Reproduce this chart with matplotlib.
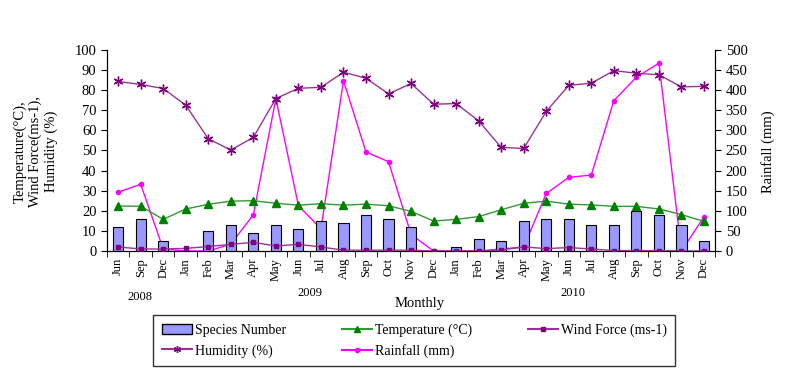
import numpy as np
import matplotlib.pyplot as plt
from matplotlib.lines import Line2D
from matplotlib.patches import Patch

plt.rcParams['font.family'] = 'Liberation Serif'

months = ['Jun', 'Sep', 'Dec',
          'Jan', 'Feb', 'Mar', 'Apr', 'May', 'Jun', 'Jul', 'Aug', 'Sep', 'Oct', 'Nov', 'Dec',
          'Jan', 'Feb', 'Mar', 'Apr', 'May', 'Jun', 'Jul', 'Aug', 'Sep', 'Oct', 'Nov', 'Dec']

species = [12, 16, 5, 0, 10, 13, 9, 13, 11, 15, 14, 18, 16, 12, 0,
           2, 6, 5, 15, 16, 16, 13, 13, 20, 18, 13, 5]
temperature = [22.3, 22.3, 15.7, 20.9, 23.2, 24.8, 25.0, 23.7, 22.8, 23.5, 22.8, 23.3, 22.5, 19.7, 14.9,
               15.7, 17.1, 20.5, 23.7, 24.8, 23.3, 22.9, 22.2, 22.2, 20.9, 18.1, 14.7]
wind = [2.0, 1.0, 1.0, 1.3, 2.2, 3.3, 4.3, 2.5, 3.3, 2.0, 0.4, 0.4, 0.4, 0.4, 0.0,
        0.0, 0.0, 0.5, 2.0, 1.2, 1.7, 1.0, 0.2, 0.2, 0.2, 0.0, 0.0]
humidity = [84.3, 82.8, 80.8, 72.5, 55.8, 50.2, 56.5, 75.8, 80.9, 81.4, 88.9, 85.9, 78.1, 83.3, 73.0,
            73.3, 64.7, 51.5, 51.0, 69.4, 82.4, 83.4, 89.7, 88.4, 87.6, 81.6, 81.9]
rainfall = [146, 166, 5, 0, 0, 17, 90, 379, 113, 55, 423, 246, 222, 41, 0,
            0, 0, 5, 10, 143, 183, 189, 374, 432, 467, 0, 85]

x = np.arange(len(months))

fig = plt.figure(figsize=(7.86, 3.78), dpi=100)
ax = fig.add_axes([0.136, 0.336, 0.774, 0.532])
ax2 = ax.twinx()

ax.bar(x, species, width=0.45, color='#9999FF', edgecolor='black', linewidth=0.8, zorder=2)
ax.plot(x, temperature, color='#339933', marker='^', markersize=6, markerfacecolor='#008000',
        markeredgecolor='#008000', linewidth=1, zorder=3)
ax.plot(x, wind, color='#993399', marker='s', markersize=3.5, markerfacecolor='#800080',
        markeredgecolor='#800080', linewidth=1, zorder=3)
ax.plot(x, humidity, color='#993399', marker=(6, 2, 0), markersize=7, markeredgecolor='#800080',
        linewidth=1, zorder=3)
ax2.plot(x, rainfall, color='#FF00FF', marker='o', markersize=3, linewidth=1, zorder=3)

ax.set_xlim(-0.5, len(months) - 0.5)
ax.set_ylim(0, 100)
ax2.set_ylim(0, 500)
ax.set_yticks(np.arange(0, 101, 10))
ax2.set_yticks(np.arange(0, 501, 50))
ax.tick_params(axis='y', labelsize=10.5, direction='out', length=4)
ax2.tick_params(axis='y', labelsize=10.5, direction='out', length=4)

ax.set_xticks(x)
ax.set_xticklabels(months, rotation=90, fontsize=9)
ax.set_xticks(np.arange(-0.5, len(months), 1), minor=True)
ax.tick_params(axis='x', which='major', length=0, pad=5)
ax.tick_params(axis='x', which='minor', length=4, direction='out')

for a in (ax, ax2):
    a.spines['top'].set_visible(False)
ax.set_zorder(ax2.get_zorder() + 1)
ax.patch.set_visible(False)

fig.text(0.045, 0.60, 'Temperature(°C),\nWind Force(ms-1),\nHumidity (%)', rotation=90,
         ha='center', va='center', fontsize=10.5, multialignment='center')
fig.text(0.977, 0.60, 'Rainfall (mm)', rotation=90, ha='center', va='center', fontsize=10.5)

fig.text(0.178, 0.213, '2008', ha='center', va='center', fontsize=9)
fig.text(0.394, 0.225, '2009', ha='center', va='center', fontsize=9)
fig.text(0.729, 0.225, '2010', ha='center', va='center', fontsize=9)
fig.text(0.534, 0.198, 'Monthly', ha='center', va='center', fontsize=10.5)

handles = [
    Patch(facecolor='#9999FF', edgecolor='black', label='Species Number'),
    Line2D([], [], color='#993399', marker=(6, 2, 0), markersize=5, markeredgecolor='#800080',
           label='Humidity (%)'),
    Line2D([], [], color='#339933', marker='^', markersize=5, markerfacecolor='#008000',
           markeredgecolor='#008000', label='Temperature (°C)'),
    Line2D([], [], color='#FF00FF', marker='o', markersize=3, label='Rainfall (mm)'),
    Line2D([], [], color='#993399', marker='s', markersize=3, markerfacecolor='#800080',
           markeredgecolor='#800080', label='Wind Force (ms-1)'),
]
leg = fig.legend(handles=handles, ncol=3, loc='center', bbox_to_anchor=(0.527, 0.098),
                 frameon=True, fancybox=False, edgecolor='black', fontsize=10,
                 handlelength=2.2, handletextpad=0.2, columnspacing=4.0,
                 labelspacing=0.5, borderpad=0.6)
leg.get_frame().set_linewidth(1.0)

fig.savefig('out.png', dpi=100)
